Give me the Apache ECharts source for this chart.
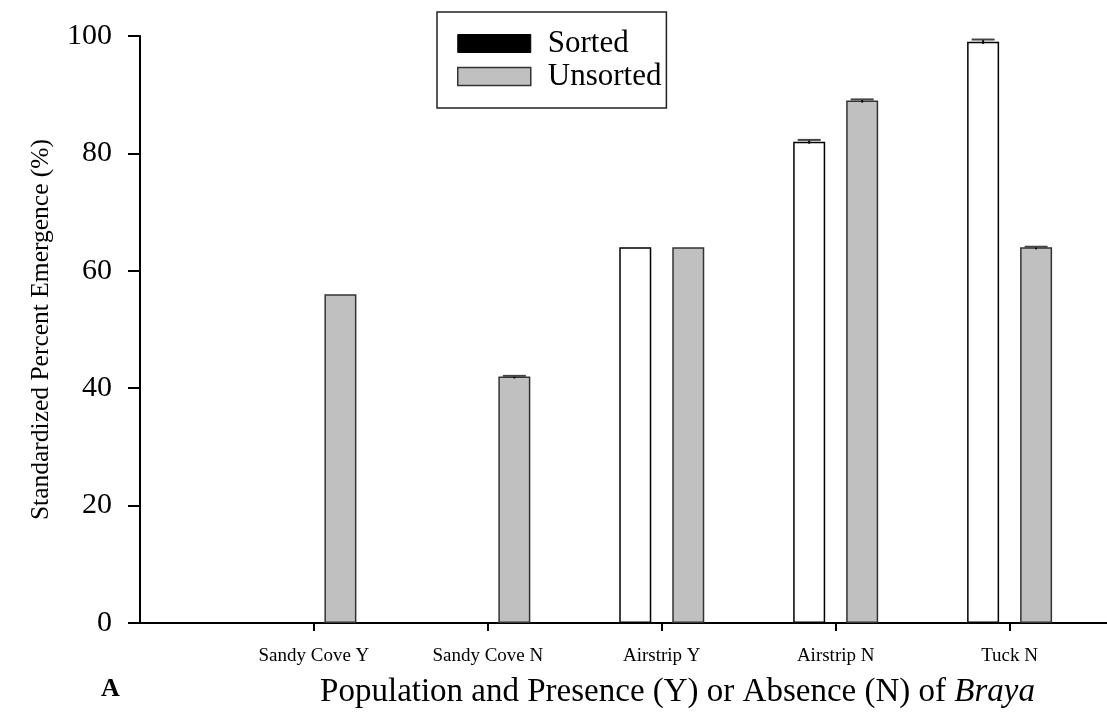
<!DOCTYPE html>
<html>
<head>
<meta charset="utf-8">
<script src="https://cdn.jsdelivr.net/npm/echarts@6/dist/echarts.min.js"></script>
<style>
html,body{margin:0;padding:0;background:#fff;}
#chart{width:1107px;height:715px;}
</style>
</head>
<body>
<div id="chart"></div>
<script>
const categories = ['Sandy Cove Y', 'Sandy Cove N', 'Airstrip Y', 'Airstrip N', 'Tuck N'];
const sortedValues = [0, 0, 64, 82, 99];
const unsortedValues = [56, 42, 64, 89, 64];
const sortedErrors = [0, 0, 0, 0.3, 0.4];
const unsortedErrors = [0, 0.1, 0, 0.2, 0.1];
const yTicks = [0, 20, 40, 60, 80, 100];

const FONT = "'Liberation Serif', 'Times New Roman', serif";
const BAR_W = 32;
const GAP_PX = 21;
const positions = categories.map((c, i) => i + 1);

function errSeries(name, values, errors, sign) {
  const off = sign * (BAR_W + GAP_PX) / 2;
  return {
    name: name + ' error',
    type: 'custom',
    z: 5,
    data: positions.map((p, i) => [p, values[i], errors[i]]),
    renderItem: function (params, api) {
      const x = api.value(0), v = api.value(1), e = api.value(2);
      if (!(e > 0)) return null;
      const top = api.coord([x, v + e]);
      const base = api.coord([x, v]);
      const cx = top[0] + off;
      return {
        type: 'group',
        children: [
          {type: 'line', shape: {x1: cx, y1: top[1], x2: cx, y2: base[1] + 2}, style: {stroke: '#000', lineWidth: 2}},
          {type: 'line', shape: {x1: cx - 11.5, y1: top[1], x2: cx + 11.5, y2: top[1]}, style: {stroke: '#444', lineWidth: 2}}
        ]
      };
    }
  };
}

const chart = echarts.init(document.getElementById('chart'));
chart.setOption({
  animation: false,
  backgroundColor: '#fff',
  title: {
    text: 'A',
    left: 96,
    top: 671,
    textStyle: {fontFamily: FONT, fontWeight: 'bold', fontSize: 26, color: '#000'}
  },
  legend: {
    orient: 'vertical',
    left: 437,
    top: 12,
    padding: [16, 5, 16, 20],
    itemWidth: 73,
    itemHeight: 18,
    itemGap: 2,
    icon: 'rect',
    borderColor: '#222',
    borderWidth: 1.5,
    backgroundColor: '#fff',
    textStyle: {fontFamily: FONT, fontSize: 31, color: '#000', padding: [0, 0, 0, 12]},
    data: [
      {name: 'Sorted', itemStyle: {color: '#000', borderColor: '#000', borderWidth: 1}},
      {name: 'Unsorted', itemStyle: {color: '#c0c0c0', borderColor: '#333', borderWidth: 1.5}}
    ]
  },
  grid: {left: 140, right: 0, top: 36, bottom: 92, containLabel: false},
  xAxis: {
    type: 'value',
    min: 0,
    max: 5.56,
    splitLine: {show: false},
    axisLine: {show: true, lineStyle: {color: '#000', width: 2}},
    axisTick: {show: true, length: 8, lineStyle: {color: '#000', width: 2}, customValues: positions},
    axisLabel: {
      customValues: positions,
      margin: 24,
      fontFamily: FONT,
      fontSize: 19,
      color: '#000',
      formatter: function (v) { return categories[Math.round(v) - 1] || ''; }
    },
    name: 'Population and Presence (Y) or Absence (N) of {i|Braya}',
    nameLocation: 'middle',
    nameGap: 69,
    nameMoveOverlap: false,
    nameTextStyle: {
      fontFamily: FONT, fontSize: 33, color: '#000',
      verticalAlign: 'middle',
      padding: [0, 0, 0, 108],
      rich: {i: {fontFamily: FONT, fontSize: 33, fontStyle: 'italic', color: '#000'}}
    }
  },
  yAxis: {
    type: 'value',
    min: yTicks[0],
    max: yTicks[yTicks.length - 1],
    interval: yTicks[1] - yTicks[0],
    splitLine: {show: false},
    axisLine: {show: true, lineStyle: {color: '#000', width: 2}},
    axisTick: {show: true, length: 12, lineStyle: {color: '#000', width: 2}},
    axisLabel: {margin: 28, fontFamily: FONT, fontSize: 30, color: '#000'},
    name: 'Standardized Percent Emergence (%)',
    nameLocation: 'middle',
    nameGap: 86,
    nameTextStyle: {fontFamily: FONT, fontSize: 25.5, color: '#000'}
  },
  series: [
    {
      name: 'Sorted',
      type: 'bar',
      barWidth: BAR_W,
      barGap: (GAP_PX / BAR_W * 100).toFixed(1) + '%',
      itemStyle: {color: '#fff', borderColor: '#000', borderWidth: 1.5},
      data: positions.map((p, i) => [p, sortedValues[i]])
    },
    {
      name: 'Unsorted',
      type: 'bar',
      barWidth: BAR_W,
      barGap: (GAP_PX / BAR_W * 100).toFixed(1) + '%',
      itemStyle: {color: '#c0c0c0', borderColor: '#333', borderWidth: 1.5},
      data: positions.map((p, i) => [p, unsortedValues[i]])
    },
    errSeries('Sorted', sortedValues, sortedErrors, -1),
    errSeries('Unsorted', unsortedValues, unsortedErrors, 1)
  ]
});
</script>
</body>
</html>
